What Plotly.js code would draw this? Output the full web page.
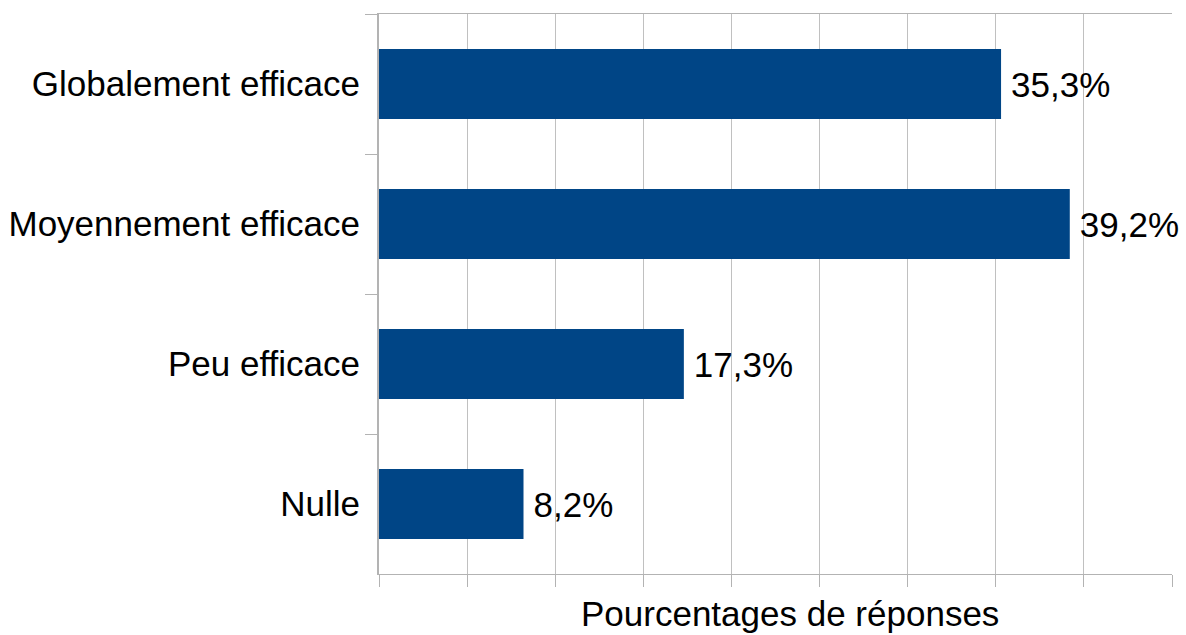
<!DOCTYPE html>
<html>
<head>
<meta charset="utf-8">
<script src="https://cdn.plot.ly/plotly-3.0.1.min.js"></script>
<style>html,body{margin:0;padding:0;background:#fff;}#chart{width:1186px;height:635px;}</style>
</head>
<body>
<div id="chart"></div>
<script>
const categories = ["Globalement efficace", "Moyennement efficace", "Peu efficace", "Nulle"];
const values = [35.3, 39.2, 17.3, 8.2];
const xTitle = "Pourcentages de réponses";

const font = "Liberation Sans, Arial, sans-serif";

const trace = {
  type: "bar",
  orientation: "h",
  y: categories,
  x: values,
  marker: {color: "#004586", line: {width: 0}},
  texttemplate: "\u2009%{x:.1f}%",
  textposition: "outside",
  textfont: {family: font, size: 35, color: "#000"},
  cliponaxis: false,
  hoverinfo: "skip"
};

const layout = {
  width: 1186,
  height: 635,
  margin: {l: 379, r: 14, t: 14, b: 61, pad: 0},
  paper_bgcolor: "#fff",
  plot_bgcolor: "#fff",
  separators: ", ",
  bargap: 0.5,
  showlegend: false,
  font: {family: font, size: 35, color: "#000"},
  xaxis: {
    range: [0, 45],
    dtick: 5,
    tick0: 0,
    showticklabels: false,
    ticks: "outside",
    ticklen: 12,
    tickcolor: "#b3b3b3",
    tickwidth: 1,
    showgrid: true,
    gridcolor: "#c0c0c0",
    gridwidth: 1,
    zeroline: false,
    showline: true,
    linecolor: "#b3b3b3",
    linewidth: 1,
    mirror: true,
    fixedrange: true
  },
  yaxis: {
    type: "category",
    autorange: "reversed",
    tickson: "boundaries",
    ticks: "outside",
    ticklen: 12,
    tickcolor: "#b3b3b3",
    tickwidth: 1,
    ticklabelstandoff: 10,
    showgrid: false,
    zeroline: false,
    showline: true,
    linecolor: "#b3b3b3",
    linewidth: 2,
    tickfont: {family: font, size: 35, color: "#000"},
    fixedrange: true
  },
  annotations: [{
    text: xTitle,
    xref: "paper", yref: "paper",
    x: 0.518, y: 0,
    xanchor: "center", yanchor: "top",
    yshift: -18,
    showarrow: false,
    font: {family: font, size: 35, color: "#000"}
  }]
};

Plotly.newPlot("chart", [trace], layout, {displayModeBar: false, staticPlot: true});
</script>
</body>
</html>
